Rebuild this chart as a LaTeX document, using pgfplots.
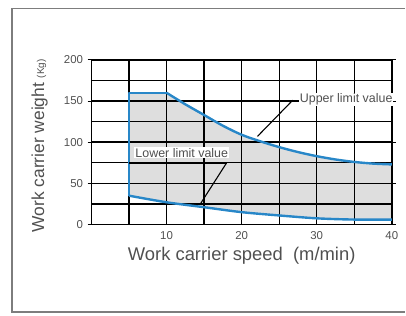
\documentclass[border=0pt]{standalone}
\usepackage{pgfplots}
\pgfplotsset{compat=1.18}
\usepackage{fontspec}
\setmainfont{Liberation Sans}
\definecolor{txtgray}{RGB}{80,80,80}
\definecolor{cblue}{RGB}{40,135,200}
\definecolor{cframe}{RGB}{125,125,125}
\begin{document}
\begin{tikzpicture}
\path (0bp,0bp) rectangle (406bp,-316bp);
\draw[cframe, line width=1.8bp] (406bp,-8.5bp) -- (11.7bp,-8.5bp) -- (11.7bp,-313bp) -- (406bp,-313bp);
\begin{axis}[
  at={(91.7bp,-225bp)}, anchor=south west,
  scale only axis, width=301bp, height=165bp,
  xmin=0, xmax=40, ymin=0, ymax=200,
  xtick={10,20,30,40}, minor xtick={5,15,25,35},
  ytick={0,50,100,150,200}, minor ytick={25,75,125,175},
  grid=both,
  grid style={black, line width=1.4bp},
  minor grid style={black, line width=1.4bp},
  axis line style={black, line width=1.4bp},
  xtick style={draw=none}, minor tick length=0pt,
  ytick style={black, line width=0.8bp},
  tick align=outside, major tick length=4bp,
  tick label style={font=\fontsize{11.5}{11.5}\selectfont, text=txtgray},
  /pgf/number format/assume math mode=true,
  xticklabel style={yshift=0bp},
  yticklabel style={xshift=-1bp},
  clip=false,
  xlabel={Work carrier speed\ \ (m/min)},
  ylabel={Work carrier weight {\fontsize{10}{10}\selectfont(Kg)}},
  x label style={at={(axis description cs:0.5,-0.19)}, anchor=center, font=\fontsize{18.5}{18.5}\selectfont, text=txtgray},
  y label style={at={(axis description cs:-0.173,0.478)}, anchor=center, font=\fontsize{17.5}{17.5}\selectfont, text=txtgray},
]
\addplot[fill=black, fill opacity=0.13, draw=none] coordinates {
  (5,35) (5,160) (10,160) (12.5,146) (15,133) (17.5,120) (20,109) (22.5,101) (25,94) (27.5,88) (30,83) (32.5,79) (35,76) (37.5,74) (40,73)
  (40,6) (35,6) (30,7.5) (25,11) (20,15) (15,21) (10,27) (5,35)
};
\addplot[cblue, line width=2.4bp, line join=round] coordinates {(5,35) (5,160) (10,160)};
\addplot[cblue, line width=2.4bp, smooth] coordinates {
  (10,160) (12.5,146) (15,133) (17.5,120) (20,109) (22.5,101) (25,94) (27.5,88) (30,83) (32.5,79) (35,76) (37.5,74) (40,73)};
\addplot[cblue, line width=2.4bp, smooth] coordinates {
  (5,35) (10,27) (15,21) (20,15) (25,11) (30,7.5) (35,6) (40,6)};
% leaders
\addplot[black, line width=1.1bp] coordinates {(26.8,151) (27.6,151)};
\addplot[black, line width=1.1bp] coordinates {(26.8,151) (22.1,107)};
\addplot[black, line width=2.2bp] coordinates {(5,75) (18,75)};
\addplot[black, line width=1.1bp] coordinates {(18,75) (14.5,25)};
\node[anchor=west, fill=white, inner sep=1bp, text=txtgray, font=\fontsize{12.5}{12.5}\selectfont] at (axis cs:27.6,152) {Upper limit value};
\node[anchor=west, fill=white, inner sep=1bp, text=txtgray, font=\fontsize{12.5}{12.5}\selectfont] at (axis cs:5.7,87) {Lower limit value};
\end{axis}
\end{tikzpicture}
\end{document}
